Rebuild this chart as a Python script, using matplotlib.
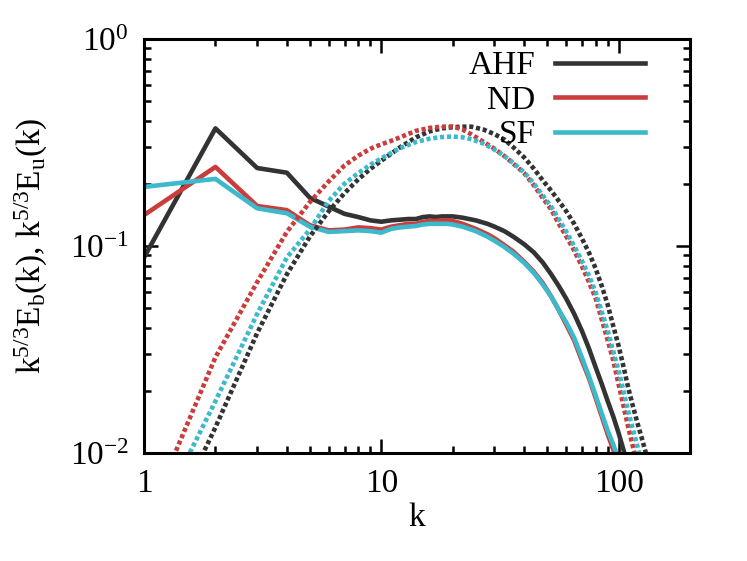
import numpy as np
import matplotlib
matplotlib.use("Agg")
import matplotlib.pyplot as plt
from matplotlib.ticker import LogLocator, NullFormatter, FixedLocator

plt.rcParams['font.family'] = ['Liberation Serif', 'DejaVu Serif']
plt.rcParams['mathtext.fontset'] = 'custom'
plt.rcParams['mathtext.rm'] = 'Liberation Serif'
plt.rcParams['mathtext.it'] = 'Liberation Serif:italic'

# Solid lines: k^{5/3} E_b(k)
k_b = [1, 2, 3, 4, 5, 6, 7, 8, 9, 10, 11, 12, 13, 14, 15, 16, 17, 18, 19, 20,
       22, 25, 28, 30, 33, 36, 40, 44, 48, 52, 56, 60, 65, 70, 75, 80, 85, 90,
       95, 100, 105, 110]
ahf_b = [0.088, 0.37, 0.238, 0.226, 0.171, 0.155, 0.143, 0.138, 0.133, 0.131,
         0.133, 0.134, 0.135, 0.135, 0.138, 0.139, 0.138, 0.139, 0.139, 0.139,
         0.137, 0.133, 0.128, 0.124, 0.118, 0.111, 0.102, 0.093, 0.083, 0.073,
         0.064, 0.056, 0.047, 0.039, 0.032, 0.026, 0.0215, 0.0178, 0.0150,
         0.0125, 0.0103, 0.0085]
nd_b = [0.141, 0.241, 0.156, 0.149, 0.126, 0.119, 0.120, 0.123, 0.122, 0.120,
        0.124, 0.126, 0.128, 0.128, 0.131, 0.132, 0.132, 0.133, 0.133, 0.132,
        0.128, 0.121, 0.114, 0.109, 0.101, 0.094, 0.084, 0.075, 0.066, 0.057,
        0.049, 0.042, 0.035, 0.028, 0.023, 0.0185, 0.015, 0.0123, 0.0104,
        0.0087, 0.0073, 0.006]
sf_b = [0.193, 0.211, 0.152, 0.144, 0.124, 0.117, 0.118, 0.119, 0.118, 0.116,
        0.121, 0.123, 0.124, 0.125, 0.127, 0.128, 0.128, 0.128, 0.128, 0.127,
        0.124, 0.118, 0.111, 0.106, 0.099, 0.092, 0.083, 0.074, 0.065, 0.057,
        0.049, 0.043, 0.036, 0.029, 0.0235, 0.019, 0.0155, 0.0128, 0.011,
        0.0092, 0.0078, 0.0065]

# Dotted lines: k^{5/3} E_u(k)
k_ahf_u = [1, 2, 3, 4, 5, 6, 7, 8, 9, 10, 12, 14, 16, 18, 20, 22, 24, 27, 30,
           33, 36, 40, 44, 48, 52, 56, 60, 65, 70, 75, 80, 85, 90, 95, 100,
           105, 110, 115, 120, 125, 130, 135]
ahf_u = [0.0025, 0.0133, 0.038, 0.073, 0.111, 0.147, 0.180, 0.210, 0.236, 0.258,
         0.300, 0.335, 0.358, 0.370, 0.375, 0.377, 0.377, 0.365, 0.347,
         0.327, 0.300, 0.268, 0.236, 0.207, 0.185, 0.165, 0.148, 0.128, 0.109,
         0.093, 0.078, 0.064, 0.052, 0.041, 0.033, 0.026, 0.0205, 0.0168,
         0.0140, 0.0119, 0.0101, 0.0085]
k_nd_u = [1, 2, 3, 4, 5, 6, 7, 8, 9, 10, 11, 12, 14, 16, 18, 20, 22, 24, 27,
          30, 33, 36, 40, 44, 48, 52, 56, 60, 65, 70, 75, 80, 85, 90, 95, 100,
          105, 110, 115, 120]
nd_u = [0.0044, 0.029, 0.067, 0.117, 0.163, 0.205, 0.245, 0.273, 0.295, 0.310,
        0.322, 0.335, 0.360, 0.372, 0.377, 0.378, 0.365, 0.346, 0.318,
        0.295, 0.272, 0.250, 0.225, 0.196, 0.170, 0.150, 0.128, 0.112, 0.095,
        0.080, 0.067, 0.056, 0.044, 0.035, 0.028, 0.0215, 0.0168, 0.0132,
        0.0107, 0.0088]
k_sf_u = [1, 2, 3, 4, 5, 6, 7, 8, 9, 10, 12, 14, 16, 18, 20, 22, 24, 27, 30,
          33, 36, 40, 44, 48, 52, 56, 60, 65, 70, 75, 80, 85, 90, 95, 100,
          105, 110, 115, 120, 125]
sf_u = [0.0036, 0.0178, 0.047, 0.088, 0.120, 0.165, 0.200, 0.225, 0.247, 0.265,
        0.297, 0.318, 0.330, 0.336, 0.338, 0.335, 0.328, 0.312, 0.292,
        0.272, 0.252, 0.227, 0.200, 0.175, 0.155, 0.135, 0.118, 0.100, 0.085,
        0.072, 0.060, 0.048, 0.039, 0.031, 0.025, 0.0198, 0.0158, 0.013,
        0.0108, 0.0089]

labels = ['AHF', 'ND', 'SF']
colors = ['#333333', '#cb3c3c', '#3cb9ca']

fig = plt.figure(figsize=(7.47, 5.61), dpi=100)
ax = fig.add_axes([144 / 747, 1 - 453 / 561, (690 - 144) / 747, (453 - 39) / 561])

lw = 3.3
dots = (0, (0.9, 0.6))
solid = [(k_b, ahf_b), (k_b, nd_b), (k_b, sf_b)]
dotted = [(k_ahf_u, ahf_u), (k_nd_u, nd_u), (k_sf_u, sf_u)]
for (x, y), lab, c in zip(solid, labels, colors):
    ax.plot(x, y, color=c, lw=lw, label=lab)
for (x, y), c in zip(dotted, colors):
    ax.plot(x, y, color=c, lw=lw, linestyle=dots, dash_capstyle='butt')

ax.set_xscale('log')
ax.set_yscale('log')
ax.set_xlim(1, 200)
ax.set_ylim(0.01, 1)

ax.xaxis.set_major_locator(FixedLocator([1, 10, 100]))
ax.set_xticklabels(['1', '10', '100'])
ax.yaxis.set_major_locator(FixedLocator([0.01, 0.1, 1]))
ax.set_yticklabels([r'10$^{\mathrm{-2}}$', r'10$^{\mathrm{-1}}$', r'10$^{\mathrm{0}}$'])
ax.xaxis.set_minor_locator(LogLocator(base=10, subs=np.arange(2, 10)))
ax.yaxis.set_minor_locator(LogLocator(base=10, subs=np.arange(2, 10)))
ax.xaxis.set_minor_formatter(NullFormatter())
ax.yaxis.set_minor_formatter(NullFormatter())

ax.tick_params(which='both', direction='in', top=True, right=True, labelsize=24, width=1.8)
ax.tick_params(which='major', length=10, pad=11)
ax.tick_params(which='minor', length=5)
for s in ax.spines.values():
    s.set_linewidth(2.2)

ax.set_xlabel('k', fontsize=24, labelpad=3)
ax.set_ylabel(r'k$^{\mathrm{5/3}}$E$_{\mathrm{b}}$(k), k$^{\mathrm{5/3}}$E$_{\mathrm{u}}$(k)',
              fontsize=24, labelpad=14)

leg = ax.legend(loc='upper right', frameon=False, markerfirst=False, fontsize=24,
                handlelength=2.7, handletextpad=0.6, labelspacing=0.12,
                borderaxespad=0.2, bbox_to_anchor=(0.955, 1.02))
for t in leg.get_texts():
    t.set_ha('right')

fig.savefig('out.png', dpi=100)
